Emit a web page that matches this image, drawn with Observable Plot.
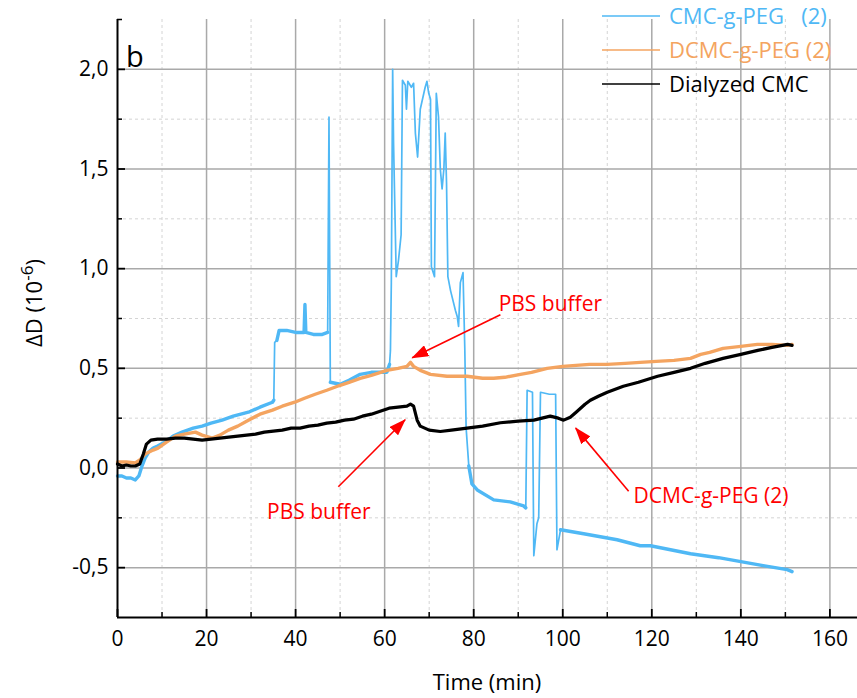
<!DOCTYPE html>
<html><head><meta charset="utf-8">
<script src="https://cdn.jsdelivr.net/npm/d3@7"></script>
<script src="https://cdn.jsdelivr.net/npm/@observablehq/plot@0.6"></script>
<style>
html,body{margin:0;padding:0;background:#fff;}
#chart{position:relative;width:857px;height:698px;}
</style></head><body><div id="chart"></div>
<script>
// ---- data ----
const blueT = [0,1,2,3,4,4.8,5.5,6.2,7,8,9,10.7,12.5,14.5,17,19,21,23.5,26,29.4,32,34.8,35.1,35.3,35.8,36.3,38,40,41.9,42.1,42.3,44,46,47.2,47.5,47.8,50,52,54.5,57,60.5,61.1,61.3,61.5,61.8,62.0,62.6,63.1,63.7,64.0,64.65,64.9,65.2,66.0,66.5,66.9,67.4,68.0,69.1,69.5,69.9,70.3,70.5,71.2,71.6,72.1,72.5,72.9,73.3,73.6,73.9,74.2,74.8,75.9,76.3,76.6,77.0,77.6,78.0,78.3,78.9,79.6,80.8,84.5,88.2,91.2,91.7,92.0,93.2,93.5,94.2,94.6,95.0,97,98.4,98.7,99.5,104.7,112.2,117.4,119.7,128.7,135,140,145,150.4,151.5];
const blueV = [-0.04,-0.04,-0.05,-0.05,-0.06,-0.04,0.01,0.05,0.08,0.10,0.11,0.13,0.16,0.18,0.20,0.21,0.225,0.24,0.26,0.28,0.305,0.33,0.34,0.63,0.64,0.69,0.69,0.68,0.68,0.82,0.68,0.67,0.67,0.68,1.76,0.43,0.42,0.44,0.47,0.48,0.48,0.52,0.59,0.93,2.00,1.63,0.96,1.04,1.17,1.945,1.92,1.80,1.94,1.91,1.93,1.68,1.56,1.80,1.91,1.94,1.88,1.85,1.01,0.96,1.88,1.76,1.50,1.40,1.50,1.68,1.43,0.96,0.89,0.79,0.76,0.71,0.93,0.98,0.60,0.20,0.01,-0.08,-0.11,-0.16,-0.17,-0.19,-0.20,0.39,0.38,-0.44,-0.28,-0.25,0.38,0.37,0.37,-0.41,-0.31,-0.33,-0.36,-0.39,-0.39,-0.43,-0.45,-0.47,-0.49,-0.51,-0.52];

const orangeT = [0,2,4,5,6.2,8,9.1,11,13,15,17.5,19,21.3,23,24.9,27,29.4,32,34.8,37,39.8,42,44.4,47,50,52,54.5,57,60.5,63,65,65.8,66.5,68,70.3,74,78.5,82,84.5,87,90.5,93,96.5,100,103,106,110,114,117.4,121,125,128.7,131,133,136,140,143.7,147,150.5,151.5];
const orangeV = [0.03,0.03,0.025,0.04,0.07,0.09,0.10,0.13,0.16,0.17,0.18,0.165,0.15,0.165,0.19,0.21,0.24,0.27,0.29,0.31,0.33,0.35,0.37,0.39,0.415,0.43,0.45,0.465,0.49,0.50,0.51,0.53,0.51,0.49,0.47,0.46,0.46,0.45,0.45,0.455,0.47,0.48,0.50,0.51,0.515,0.52,0.52,0.525,0.53,0.535,0.54,0.55,0.57,0.58,0.60,0.61,0.62,0.62,0.615,0.62];

const blackT = [0,1,2,3,4,5,5.8,6.5,7.5,9,11,13,15,17,19,21,23,25,27,29,31,33,35,37,39,41,43,45,47,49,51,53,55,57,59,61,63,65,65.8,66.5,67.3,68,70,72.5,75,78.5,82,86,90,93.5,97.2,99,100.2,101.7,103,105,106.2,108,110,113.6,117,121.3,125,128.7,132,136,140,143.8,147,150.5,151.5];
const blackV = [0.02,0.01,0.015,0.01,0.01,0.02,0.07,0.12,0.14,0.145,0.145,0.15,0.15,0.145,0.14,0.145,0.15,0.155,0.16,0.165,0.17,0.18,0.185,0.19,0.2,0.2,0.21,0.215,0.225,0.23,0.24,0.245,0.26,0.27,0.285,0.30,0.305,0.31,0.32,0.31,0.24,0.21,0.19,0.183,0.19,0.20,0.21,0.227,0.235,0.24,0.26,0.25,0.24,0.255,0.28,0.32,0.34,0.36,0.38,0.41,0.43,0.46,0.48,0.50,0.525,0.55,0.57,0.59,0.605,0.62,0.615];

// time spans where the blue trace is a steady, noisy band (drawn thicker)
const blueSteadyStart = [0, 35.8, 47.8, 78.9, 99.5];
const blueSteadyEnd = [35.1, 47.2, 61.1, 91.7, 151.5];

const seriesNames = ["CMC-g-PEG\u00a0\u00a0\u00a0(2)", "DCMC-g-PEG (2)", "Dialyzed CMC"];
const seriesColors = ["#4fb8f5", "#f4a460", "#000000"];

const xMajor = [0,20,40,60,80,100,120,140,160];
const xMinor = [10,30,50,70,90,110,130,150];
const yMajor = [-0.5,0,0.5,1,1.5,2];
const yMinor = [-0.25,0.25,0.75,1.25,1.75,2.25];

const annoText = ["PBS buffer", "PBS buffer", "DCMC-g-PEG (2)"];
const annoX = [85.6, 33.6, 115.9];
const annoY = [0.82, -0.224, -0.144];
const arrowX1 = [86.0, 49.6, 114.8];
const arrowY1 = [0.769, -0.094, -0.117];
const arrowX2 = [66.2, 64.6, 102.9];
const arrowY2 = [0.553, 0.242, 0.20];

// ---- build tables ----
const toRows = (T, V) => T.map((t, i) => ({t, v: V[i]}));
const blue = toRows(blueT, blueV);
const orange = toRows(orangeT, orangeV);
const black = toRows(blackT, blackV);
const steady = t => blueSteadyStart.some((s, i) => t >= s && t <= blueSteadyEnd[i]);
const annos = annoText.map((s, i) => ({s, x: annoX[i], y: annoY[i]}));
const arrows = arrowX1.map((x1, i) => ({x1, y1: arrowY1[i], x2: arrowX2[i], y2: arrowY2[i]}));

const W = 857, H = 698, mL = 117, mR = 0, mT = 19, mB = 81;
const plotW = W - mL - mR, plotH = H - mT - mB;
const fmt = d => d.toFixed(1).replace(".", ",");

const chart = Plot.plot({
  width: W, height: H,
  marginLeft: mL, marginRight: mR, marginTop: mT, marginBottom: mB,
  x: {domain: [0, 166.2]},
  y: {domain: [-0.75, 2.25]},
  style: {fontFamily: "'Open Sans', sans-serif", background: "#fff", color: "#000", overflow: "visible"},
  marks: [
    Plot.ruleX(xMinor, {stroke: "#d4d4d4", strokeDasharray: "3,3", strokeWidth: 1}),
    Plot.ruleY(yMinor.filter(d => d < 2.25), {stroke: "#d4d4d4", strokeDasharray: "3,3", strokeWidth: 1}),
    Plot.ruleX(xMajor.filter(d => d > 0), {stroke: "#a9a9a9", strokeWidth: 1.5}),
    Plot.ruleY(yMajor, {stroke: "#a9a9a9", strokeWidth: 1.5}),
    Plot.line(blue, {x: "t", y: "v", stroke: seriesColors[0], strokeWidth: 1.7}),
    Plot.line(blue, {x: "t", y: d => steady(d.t) ? d.v : NaN, stroke: seriesColors[0], strokeWidth: 3.4}),
    Plot.line(orange, {x: "t", y: "v", stroke: seriesColors[1], strokeWidth: 3.4}),
    Plot.line(black, {x: "t", y: "v", stroke: seriesColors[2], strokeWidth: 3.2}),
    // axis lines
    Plot.ruleX([0], {stroke: "#000", strokeWidth: 2}),
    Plot.ruleY([-0.75], {stroke: "#000", strokeWidth: 2}),
    // inward ticks
    Plot.ruleX(xMajor, {stroke: "#000", strokeWidth: 1.8, insetTop: plotH - 8}),
    Plot.ruleX(xMinor, {stroke: "#000", strokeWidth: 1.5, insetTop: plotH - 5}),
    Plot.ruleY(yMajor, {stroke: "#000", strokeWidth: 1.8, insetRight: plotW - 8}),
    Plot.ruleY(yMinor, {stroke: "#000", strokeWidth: 1.5, insetRight: plotW - 5}),
    Plot.axisX(xMajor, {tickSize: 0, tickPadding: 14, fontSize: 21, label: null, tickFormat: d => String(d)}),
    Plot.axisY(yMajor, {tickSize: 0, tickPadding: 9, fontSize: 21, label: null, tickFormat: fmt}),
    // annotations
    Plot.link(arrows, {x1: "x1", y1: "y1", x2: "x2", y2: "y2", stroke: "#ff0000", strokeWidth: 1.6}),
    Plot.text(annos, {x: "x", y: "y", text: "s", fill: "#ff0000", fontSize: 21, textAnchor: "start"})
  ]
});
document.getElementById("chart").appendChild(chart);

const svg = d3.select(chart);
// arrow head marker
const defs = svg.append("defs");
defs.append("marker").attr("id", "redhead").attr("viewBox", "0 0 17 12").attr("refX", 16).attr("refY", 6)
  .attr("markerWidth", 17).attr("markerHeight", 12).attr("markerUnits", "userSpaceOnUse").attr("orient", "auto")
  .append("path").attr("d", "M0,0L17,6L0,12z").attr("fill", "#ff0000");
svg.selectAll('g[aria-label="link"] path').attr("marker-end", "url(#redhead)");

const txt = (x, y, s, size, fill, anchor) => svg.append("text").attr("x", x).attr("y", y)
  .attr("font-family", "'Open Sans', sans-serif").attr("font-size", size).attr("fill", fill)
  .attr("text-anchor", anchor || "start").style("white-space", "pre").text(s);

// panel letter
txt(126, 67, "b", 29, "#000");

// legend
const legY = [16, 50, 84];
seriesNames.forEach((name, i) => {
  svg.append("line").attr("x1", 602).attr("x2", 660).attr("y1", legY[i]).attr("y2", legY[i])
    .attr("stroke", seriesColors[i]).attr("stroke-width", 1.5);
  txt(669, legY[i] + 8, name, 22, seriesColors[i]);
});

// axis titles
txt(487, 690, "Time (min)", 22, "#000", "middle");
const yt = svg.append("text").attr("transform", "translate(42,303) rotate(-90)")
  .attr("font-family", "'Open Sans', sans-serif").attr("font-size", 22).attr("text-anchor", "middle").attr("fill", "#000");
yt.append("tspan").text("\u0394D (10");
yt.append("tspan").attr("dy", -9).attr("font-size", 17).text("-6");
yt.append("tspan").attr("dy", 9).text(")");
</script></body></html>
